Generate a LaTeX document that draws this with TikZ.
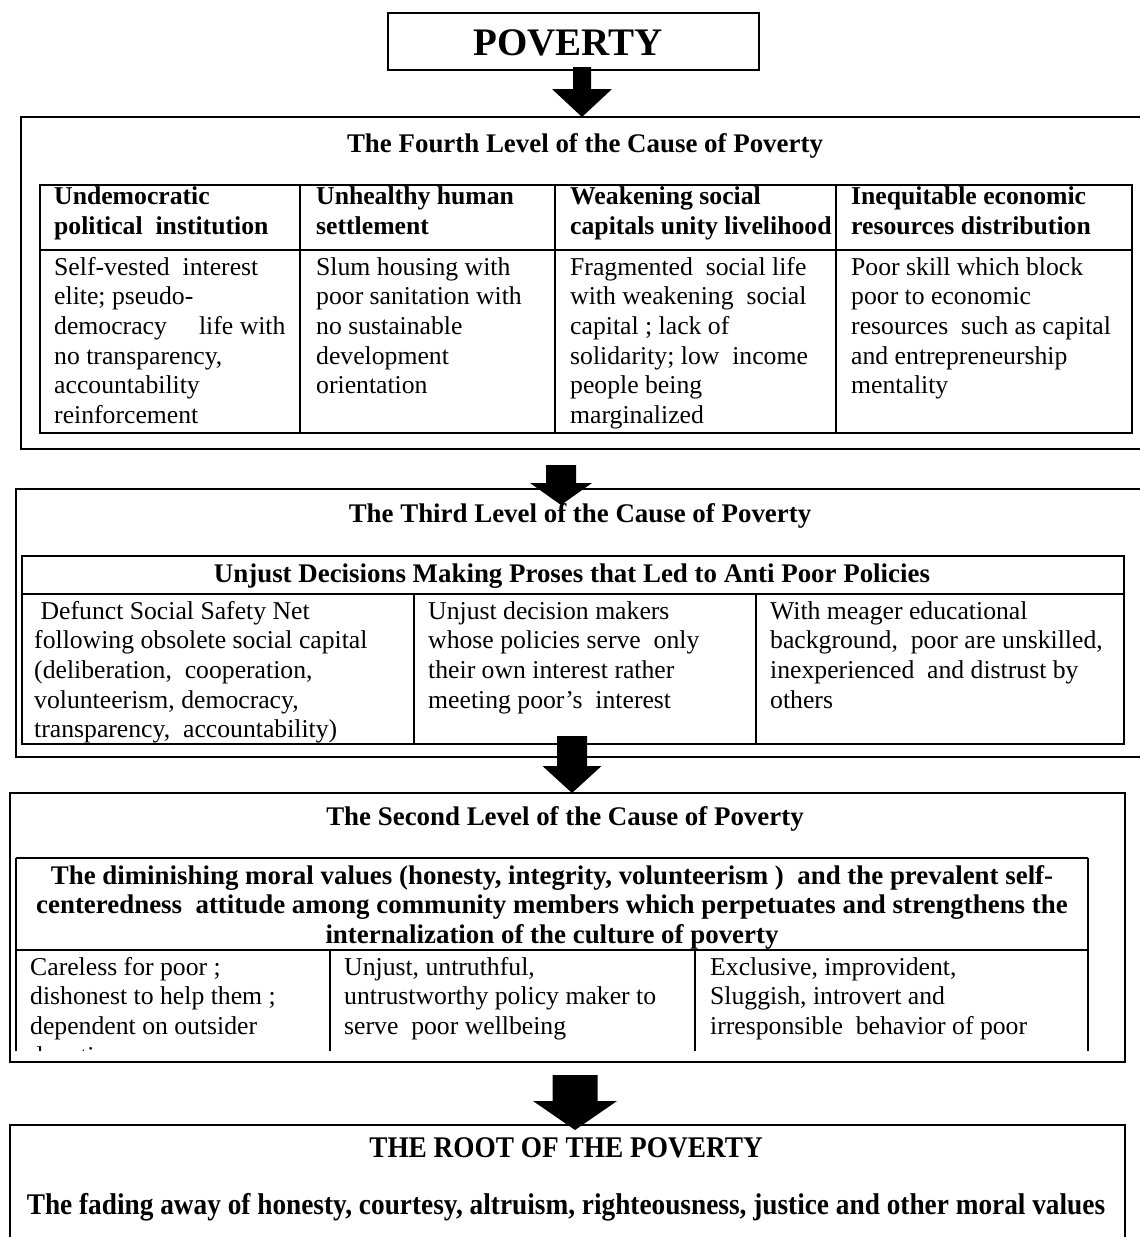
\documentclass[tikz,border=0pt]{standalone}
\usepackage{fontspec}
\setmainfont{Liberation Serif}
\newfontfamily\rootfont[FakeStretch=0.91]{Liberation Serif}
\newcommand\bodysize{\fontsize{25.7}{29.6}\selectfont}
\newcommand\headsize{\fontsize{26.9}{29.6}\selectfont\bfseries}
\newcommand\rootsize{\rootfont\bfseries\fontsize{30}{34}\selectfont}
% block arrow pointing down: tip coordinate, shaft half width, head half width, head length, total length
\newcommand\blockarrow[5]{%
  \fill[shift={(#1)}] ({-#2},{-#5}) -- ({#2},{-#5}) -- ({#2},{-#4}) -- ({#3},{-#4})
    -- (0,0) -- ({-#3},{-#4}) -- ({-#2},{-#4}) -- cycle;}
\begin{document}
\begin{tikzpicture}[x=1pt,y=-1pt,
  rule/.style={line width=1.8pt},
  cell/.style={anchor=north west, inner sep=0pt, align=left, font=\bodysize},
  hcell/.style={cell, font=\bodysize\bfseries},
  title/.style={anchor=base, inner sep=0pt, font=\headsize}]
\useasboundingbox (0,0) rectangle (1140,1237);
\fill[white] (0,0) rectangle (1140,1237);
\clip (0,0) rectangle (1140,1237);

% ---------- top box ----------
\draw[rule] (388,13) rectangle (759,70);
\node[anchor=base, inner sep=0pt, font=\fontsize{39}{44}\selectfont\bfseries] (poverty) at (568,55) {POVERTY};

% ---------- fourth level ----------
\draw[rule] (21,117) rectangle (1150,449);
\node[title] (t4) at (585,152) {The Fourth Level of the Cause of Poverty};
\draw[rule] (40,185) rectangle (1132,433);
\draw[rule] (40,250) -- (1132,250);
\foreach \x in {300,555,836} \draw[rule] (\x,185) -- (\x,433);
\node[hcell] (h41) at (54,184) {\strut Undemocratic\\political\ \ institution};
\node[hcell] (h42) at (316,184) {\strut Unhealthy human\\settlement};
\node[hcell] (h43) at (570,184) {\strut Weakening social\\capitals unity livelihood};
\node[hcell] (h44) at (851,184) {\strut Inequitable economic\\resources distribution};
\node[cell] (b41) at (54,254.3) {\strut Self-vested\ \ interest\\elite; pseudo-\\democracy\quad\ life with\\no transparency,\\accountability\\reinforcement};
\node[cell] (b42) at (316,254.3) {\strut Slum housing with\\poor sanitation with\\no sustainable\\development\\orientation};
\node[cell] (b43) at (570,254.3) {\strut Fragmented\ \ social life\\with weakening\ \ social\\capital ; lack of\\solidarity; low\ \ income\\people being\\marginalized};
\node[cell] (b44) at (851,254.3) {\strut Poor skill which block\\poor to economic\\resources\ \ such as capital\\and entrepreneurship\\mentality};

% ---------- third level ----------
\draw[rule] (16,489) rectangle (1150,757);
\node[title] (t3) at (580,522) {The Third Level of the Cause of Poverty};
\draw[rule] (22,556) rectangle (1124,744);
\draw[rule] (22,594) -- (1124,594);
\foreach \x in {414,756} \draw[rule] (\x,594) -- (\x,744);
\node[title] (h3) at (572,582) {Unjust Decisions Making Proses that Led to Anti Poor Policies};
\node[cell] (b31) at (34,598.3) {\strut\ Defunct Social Safety Net\\following obsolete social capital\\(deliberation,\ \ cooperation,\\volunteerism, democracy,\\transparency,\ \ accountability)};
\node[cell] (b32) at (428,598.3) {\strut Unjust decision makers\\whose policies serve\ \ only\\their own interest rather\\meeting poor’s\ \ interest};
\node[cell] (b33) at (770,598.3) {\strut With meager educational\\background,\ \ poor are unskilled,\\inexperienced\ \ and distrust by\\others};

% ---------- second level ----------
\draw[rule] (10,793) rectangle (1125,1062);
\node[title] (t2) at (565,825) {The Second Level of the Cause of Poverty};
\draw[rule] (16,858) -- (1088,858);
\draw[rule] (16,950) -- (1088,950);
\foreach \x in {16,1088} \draw[rule] (\x,858) -- (\x,1051);
\foreach \x in {330,695} \draw[rule] (\x,950) -- (\x,1051);
\node[anchor=north, inner sep=0pt, align=center, font=\headsize] (h2) at (552,863.3) {\strut The diminishing moral values (honesty, integrity, volunteerism )\ \ and the prevalent self-\\centeredness\ \ attitude among community members which perpetuates and strengthens the\\internalization of the culture of poverty};
\begin{scope}
  \clip (16,950) rectangle (1088,1050);
  \node[cell] (b21) at (30,954.3) {\strut Careless for poor ;\\dishonest to help them ;\\dependent on outsider\\donation};
  \node[cell] (b22) at (344,954.3) {\strut Unjust, untruthful,\\untrustworthy policy maker to\\serve\ \ poor wellbeing};
  \node[cell] (b23) at (710,954.3) {\strut Exclusive, improvident,\\Sluggish, introvert and\\irresponsible\ \ behavior of poor};
\end{scope}

% ---------- root ----------
\draw[rule] (10,1125) rectangle (1125,1270);
\node[anchor=base, inner sep=0pt, font=\rootsize] (root) at (566,1157) {THE ROOT OF THE POVERTY};
\node[anchor=base, inner sep=0pt, font=\rootsize] (rootline) at (566,1214) {The fading away of honesty, courtesy, altruism, righteousness, justice and other moral values};

% ---------- arrows between levels ----------
\coordinate (a1) at (582,117);
\coordinate (a2) at (561,505);
\coordinate (a3) at (572,793);
\coordinate (a4) at (575,1130);
\blockarrow{a1}{9}{30}{28}{50}
\blockarrow{a2}{15}{31}{22}{40}
\blockarrow{a3}{15}{29.5}{27}{57}
\blockarrow{a4}{22.5}{42}{29}{55}
\end{tikzpicture}
\end{document}
